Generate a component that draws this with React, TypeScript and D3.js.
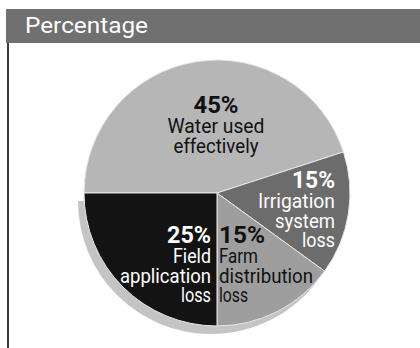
import React from "react";
import * as d3 from "d3";

const title = "Percentage";
const categories = ["Water used effectively", "Irrigation system loss", "Farm distribution loss", "Field application loss"];
const values = [45, 15, 15, 25];
const percentLabels = ["45%", "15%", "15%", "25%"];
const labelLines = [
  ["Water used", "effectively"],
  ["Irrigation", "system", "loss"],
  ["Farm", "distribution", "loss"],
  ["Field", "application", "loss"],
];

const W = 420;
const H = 348;
const CX = 217;
const CY = 193;
const R = 133;
const fills = ["#b6b6b6", "#6c6c6c", "#9e9e9e", "#131313"];
const textFills = ["#111", "#fff", "#111", "#fff"];
const SHADOW_DX = -6;
const SHADOW_DY = 8;

// label layout: anchor x offset, baseline offset of percent, anchor type, text widths
const labelLayout = [
  { dx: -1, dy: -80, anchor: "middle", pctW: 45, lineW: [97, 85] },
  { dx: 118, dy: -5, anchor: "end", pctW: 43, lineW: [77, 60, 33] },
  { dx: 2, dy: 50, anchor: "start", pctW: 46, lineW: [39, 94, 29] },
  { dx: -6, dy: 50, anchor: "end", pctW: 44, lineW: [38, 91, 30] },
];

const FONT = "Roboto, 'Liberation Sans', sans-serif";

export default function App() {
  const pie = d3
    .pie<number>()
    .sort(null)
    .startAngle(-Math.PI / 2)
    .endAngle((3 * Math.PI) / 2);
  const arcs = pie(values);
  const arc = d3.arc<d3.PieArcDatum<number>>().innerRadius(0).outerRadius(R);

  return (
    <svg
      width={W}
      height={H}
      style={{ position: "absolute", left: 0, top: 0, background: "#fff" }}
      xmlns="http://www.w3.org/2000/svg"
    >
      <rect x={6} y={9} width={W - 6} height={34} fill="#707070" />
      <text
        x={25}
        y={33}
        fontFamily={FONT}
        fontSize={22}
        fill="#fff"
        textLength={123}
        lengthAdjust="spacingAndGlyphs"
      >
        {title}
      </text>
      <rect x={7} y={43} width={2} height={H - 43} fill="#3a3a3a" />

      <g transform={`translate(${CX + SHADOW_DX},${CY + SHADOW_DY})`}>
        {arcs.slice(2).map((a, i) => (
          <path key={"s" + i} d={arc(a) || ""} fill="#c4c4c4" />
        ))}
      </g>

      <g transform={`translate(${CX},${CY})`}>
        {arcs.map((a, i) => (
          <path key={categories[i]} d={arc(a) || ""} fill={fills[i]} stroke="#e8e8e8" strokeWidth={1} />
        ))}
        {arcs.map((a, i) => {
          const L = labelLayout[i];
          return (
            <g key={"l" + i} fill={textFills[i]} fontFamily={FONT} textAnchor={L.anchor}>
              <text
                x={L.dx}
                y={L.dy}
                fontSize={24}
                fontWeight="bold"
                textLength={L.pctW}
                lengthAdjust="spacingAndGlyphs"
              >
                {percentLabels[i]}
              </text>
              {labelLines[i].map((line, j) => (
                <text
                  key={j}
                  x={L.dx}
                  y={L.dy + 20 + j * 19.5}
                  fontSize={19.5}
                  textLength={L.lineW[j]}
                  lengthAdjust="spacingAndGlyphs"
                >
                  {line}
                </text>
              ))}
            </g>
          );
        })}
      </g>
    </svg>
  );
}
